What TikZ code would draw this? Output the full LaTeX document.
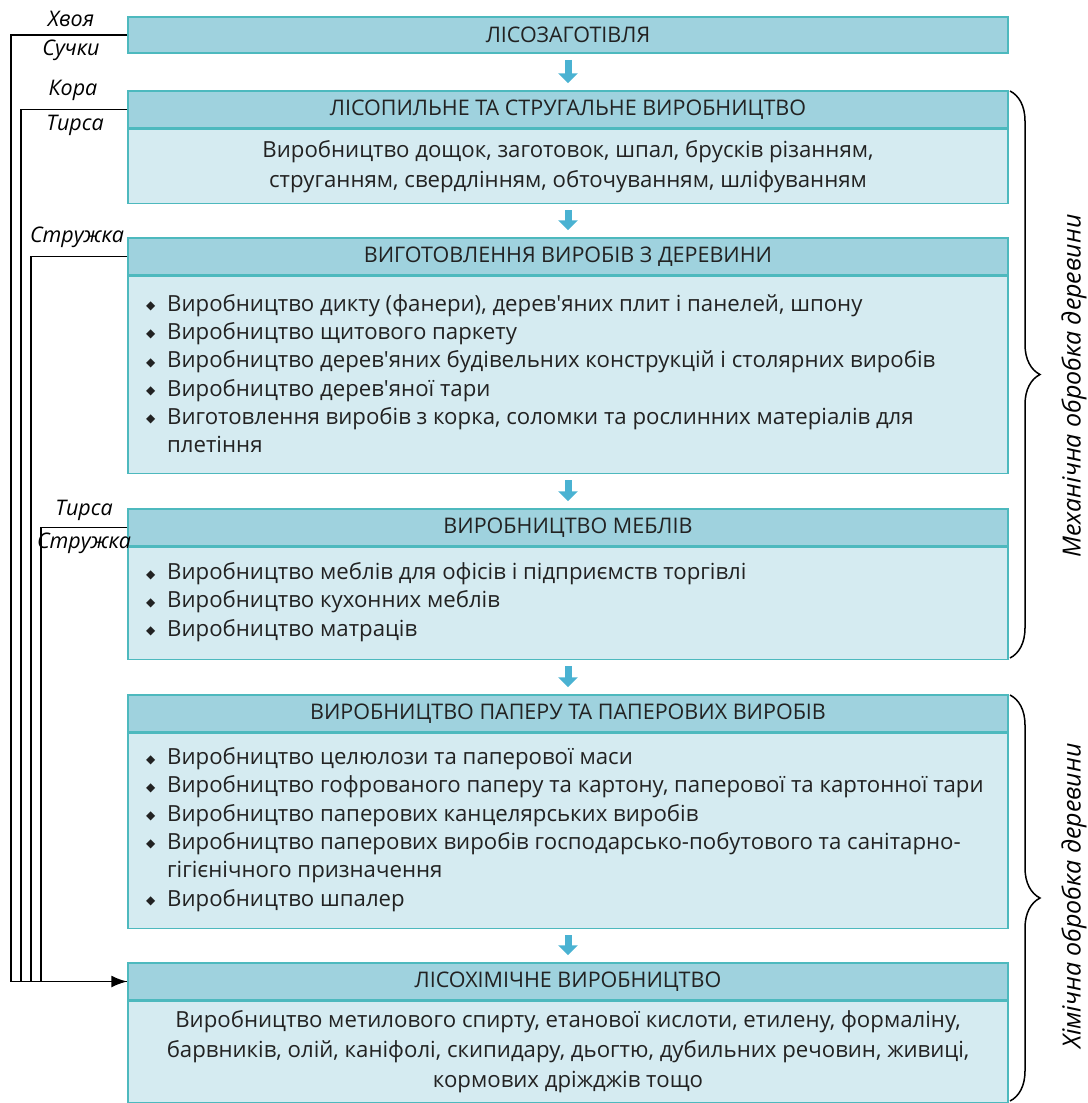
\documentclass[tikz,border=0pt]{standalone}
\usepackage{fontspec}
\setmainfont{Open Sans}
\newfontfamily\symfont{DejaVu Sans}
\usetikzlibrary{decorations.pathreplacing,arrows.meta}
\definecolor{hdrfill}{HTML}{9FD2DE}
\definecolor{bodyfill}{HTML}{D5EBF1}
\definecolor{bord}{HTML}{4DB9BE}
\definecolor{arrowc}{HTML}{4AB2D2}
\definecolor{txt}{HTML}{222222}
\newcommand\bul{\makebox[21pt][l]{\raisebox{1.5pt}{\symfont\fontsize{12}{12}\selectfont ◆}}}
\newcommand\ind{\hspace*{21pt}}
\newcommand\ap{\textquotesingle}
\begin{document}
\begin{tikzpicture}[x=1pt,y=-1pt,
  hdr/.style={draw=bord, line width=1.5pt, fill=hdrfill, minimum width=880pt, minimum height=37pt, inner sep=0pt, font=\fontsize{21.5}{24}\selectfont, text=txt},
  body/.style={draw=bord, line width=1.5pt, fill=bodyfill, minimum width=880pt, inner sep=0pt},
  btxt/.style={inner sep=0pt, align=left, anchor=west, font=\fontsize{22.2}{28.3}\selectfont, text=txt},
  ctxt/.style={inner sep=0pt, align=center, font=\fontsize{22.2}{30}\selectfont, text=txt},
  lbl/.style={inner sep=0pt, font=\fontsize{21.5}{21.5}\selectfont\itshape, text=black},
  side/.style={inner sep=0pt, rotate=90, font=\fontsize{25}{25}\selectfont\itshape, text=black},
  fb/.style={draw=black, line width=1.8pt},
  flow/.style={draw=arrowc, line width=7pt, -{Triangle[width=19pt,length=10pt]}, shorten <=6pt, shorten >=7pt},
  brc/.style={draw=black, line width=1.5pt, decorate, decoration={brace, amplitude=30pt}}
]
\useasboundingbox (0,0) rectangle (1087,1103);

% boxes
\node[hdr, minimum height=36pt] (h1) at (568,35) {ЛІСОЗАГОТІВЛЯ};

\node[hdr] (h2) at (568,109.5) {ЛІСОПИЛЬНЕ ТА СТРУГАЛЬНЕ ВИРОБНИЦТВО};
\node[body, minimum height=74pt, anchor=north] (b2) at (h2.south) {};
\node[ctxt] (t2) at (b2.center) {Виробництво дощок, заготовок, шпал, брусків різанням,\\струганням, свердлінням, обточуванням, шліфуванням};

\node[hdr] (h3) at (568,256.5) {ВИГОТОВЛЕННЯ ВИРОБІВ З ДЕРЕВИНИ};
\node[body, minimum height=197pt, anchor=north] (b3) at (h3.south) {};
\node[btxt] (t3) at (146,373.5) {\bul Виробництво дикту (фанери), дерев\ap{}яних плит і панелей, шпону\\
\bul Виробництво щитового паркету\\
\bul Виробництво дерев\ap{}яних будівельних конструкцій і столярних виробів\\
\bul Виробництво дерев\ap{}яної тари\\
\bul Виготовлення виробів з корка, соломки та рослинних матеріалів для\\
\ind плетіння};

\node[hdr] (h4) at (568,527.5) {ВИРОБНИЦТВО МЕБЛІВ};
\node[body, minimum height=112pt, anchor=north] (b4) at (h4.south) {};
\node[btxt] (t4) at (146,602) {\bul Виробництво меблів для офісів і підприємств торгівлі\\
\bul Виробництво кухонних меблів\\
\bul Виробництво матраців};

\node[hdr] (h5) at (568,713.5) {ВИРОБНИЦТВО ПАПЕРУ ТА ПАПЕРОВИХ ВИРОБІВ};
\node[body, minimum height=195pt, anchor=north] (b5) at (h5.south) {};
\node[btxt] (t5) at (146,829.5) {\bul Виробництво целюлози та паперової маси\\
\bul Виробництво гофрованого паперу та картону, паперової та картонної тари\\
\bul Виробництво паперових канцелярських виробів\\
\bul Виробництво паперових виробів господарсько-побутового та санітарно-\\
\ind гігієнічного призначення\\
\bul Виробництво шпалер};

\node[hdr] (h6) at (568,981.5) {ЛІСОХІМІЧНЕ ВИРОБНИЦТВО};
\node[body, minimum height=101pt, anchor=north] (b6) at (h6.south) {};
\node[ctxt] (t6) at (b6.center) {Виробництво метилового спирту, етанової кислоти, етилену, формаліну,\\барвників, олій, каніфолі, скипидару, дьогтю, дубильних речовин, живиці,\\кормових дріжджів тощо};

% flow arrows
\draw[flow] (h1.south) -- (h2.north);
\draw[flow] (b2.south) -- (h3.north);
\draw[flow] (b3.south) -- (h4.north);
\draw[flow] (b4.south) -- (h5.north);
\draw[flow] (b5.south) -- (h6.north);

% feedback lines
\coordinate (v1) at (11,0);
\coordinate (v2) at (21,0);
\coordinate (v3) at (31,0);
\coordinate (v4) at (41,0);
\draw[fb] (h1.west) -- (h1.west -| v1) -- (v1 |- h6.west) -- (h6.west);
\draw[fb] (h2.west) -- (h2.west -| v2) -- (v2 |- h6.west) -- (h6.west);
\draw[fb] (h3.west) -- (h3.west -| v3) -- (v3 |- h6.west) -- (h6.west);
\draw[fb, -{Latex[length=16pt,width=12pt]}] (h4.west) -- (h4.west -| v4) -- (v4 |- h6.west) -- (h6.west);

% labels
\node[lbl] (l1) at (71,19) {Хвоя};
\node[lbl] (l2) at (71,50) {Сучки};
\node[lbl] (l3) at (73,90) {Кора};
\node[lbl] (l4) at (75,125) {Тирса};
\node[lbl] (l5) at (77,237) {Стружка};
\node[lbl] (l6) at (84,510) {Тирса};
\node[lbl] (l7) at (84,543) {Стружка};

% braces
\draw[brc] (1010,91) -- (1010,658);
\draw[brc] (1010,695) -- (1010,1101);
\node[side] (s1) at (1074,386) {Механічна обробка деревини};
\node[side] (s2) at (1074,896) {Хімічна обробка деревини};
\end{tikzpicture}
\end{document}
